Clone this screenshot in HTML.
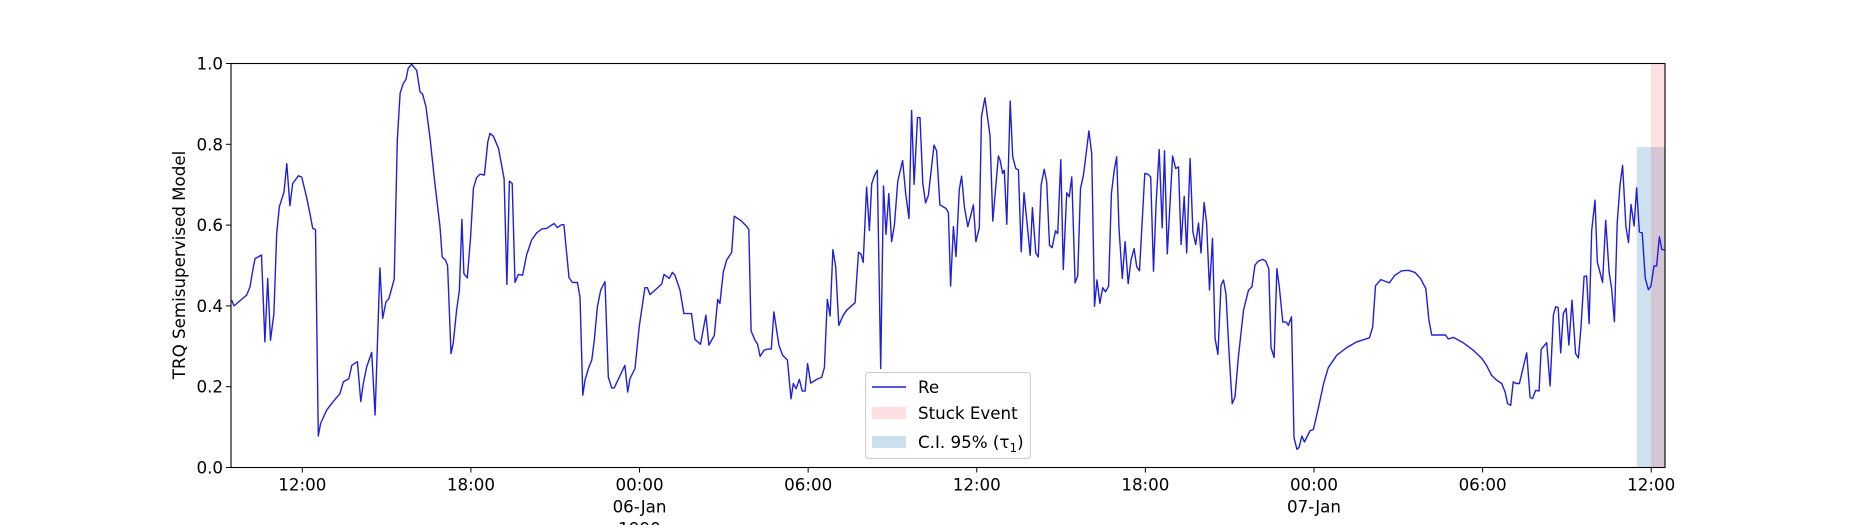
<!DOCTYPE html>
<html><head><meta charset="utf-8"><style>
html,body{margin:0;padding:0;background:#fff;}
svg text{font-family:"DejaVu Sans","Liberation Sans",sans-serif;font-size:16.7px;fill:#000;}
</style></head><body>
<svg id="chart" width="1850" height="525" xmlns="http://www.w3.org/2000/svg">
<rect width="1850" height="525" fill="#fff"/>
<g id="spans"></g>
<g id="plot"></g>
<g id="axes"></g>
<g id="legend">
  <rect x="865.5" y="372.5" width="165" height="86" rx="3" fill="#fff" fill-opacity="0.8" stroke="#cccccc"/>
  <line x1="872" y1="387" x2="906" y2="387" stroke="#1f1fdc" stroke-width="1.5"/>
  <text x="918" y="393">Re</text>
  <rect x="872" y="407" width="34" height="12" fill="#ffdfe2"/>
  <text x="918" y="419">Stuck Event</text>
  <rect x="872" y="436" width="34" height="12" fill="#cbe0ee"/>
  <text x="918" y="448">C.I. 95% (τ<tspan font-size="12" dy="4">1</tspan><tspan dy="-4">)</tspan></text>
</g>
<text transform="translate(185,265) rotate(-90)" text-anchor="middle">TRQ Semisupervised Model</text>
</svg>
<script>
const times=[9.49,9.57,10.02,10.14,10.26,10.32,10.55,10.67,10.77,10.87,10.99,11.09,11.18,11.35,11.45,11.56,11.66,11.86,11.98,12.15,12.27,12.37,12.47,12.57,12.65,12.87,13.10,13.34,13.46,13.66,13.76,13.96,14.08,14.17,14.29,14.47,14.59,14.76,14.86,14.98,15.08,15.27,15.38,15.48,15.59,15.69,15.77,15.89,16.07,16.19,16.28,16.40,16.54,16.72,16.90,16.98,17.10,17.17,17.29,17.37,17.49,17.59,17.68,17.75,17.87,17.99,18.09,18.20,18.32,18.48,18.60,18.68,18.80,18.98,19.18,19.28,19.37,19.47,19.57,19.69,19.84,19.98,20.16,20.34,20.52,20.70,20.96,21.07,21.23,21.31,21.49,21.61,21.79,21.88,21.98,22.06,22.18,22.30,22.39,22.50,22.62,22.77,22.89,23.01,23.10,23.48,23.58,23.66,23.84,23.99,24.19,24.28,24.37,24.55,24.79,24.87,25.06,25.17,25.26,25.44,25.58,25.85,25.97,26.17,26.36,26.47,26.66,26.78,26.86,26.98,27.10,27.28,27.37,27.63,27.81,27.89,27.97,28.11,28.20,28.29,28.43,28.55,28.69,28.78,28.96,29.09,29.26,29.39,29.47,29.57,29.69,29.79,29.89,29.98,30.09,30.30,30.48,30.58,30.68,30.78,30.88,30.98,31.09,31.25,31.37,31.67,31.79,31.88,31.96,32.08,32.18,32.26,32.36,32.46,32.58,32.68,32.77,32.87,32.97,33.07,33.19,33.36,33.47,33.59,33.68,33.77,33.89,33.98,34.08,34.18,34.28,34.48,34.57,34.69,34.91,34.99,35.07,35.17,35.26,35.38,35.46,35.56,35.68,35.88,35.97,36.09,36.17,36.29,36.47,36.57,36.77,36.83,36.92,36.98,37.07,37.19,37.28,37.39,37.48,37.58,37.68,37.78,37.90,37.98,38.10,38.19,38.29,38.40,38.49,38.59,38.68,38.80,38.88,38.99,39.08,39.20,39.29,39.38,39.50,39.59,39.69,39.80,39.99,40.09,40.19,40.28,40.38,40.48,40.58,40.69,40.79,40.89,40.98,41.06,41.18,41.28,41.39,41.49,41.60,41.69,41.79,41.87,41.98,42.09,42.19,42.29,42.38,42.49,42.60,42.68,42.78,42.97,43.08,43.18,43.27,43.38,43.47,43.59,43.69,43.79,43.89,43.98,44.09,44.18,44.28,44.39,44.48,44.58,44.69,44.78,44.87,44.98,45.09,45.19,45.31,45.49,45.67,45.79,45.90,46.02,46.17,46.28,46.39,46.47,46.58,46.68,46.77,46.89,47.01,47.09,47.20,47.29,47.39,47.47,47.57,47.66,47.86,47.98,48.19,48.34,48.51,48.81,49.17,49.52,49.97,50.09,50.19,50.38,50.68,50.88,51.12,51.36,51.59,51.79,51.98,52.09,52.19,52.68,52.78,52.96,53.31,53.67,53.97,54.14,54.32,54.50,54.68,54.80,54.89,55.00,55.09,55.19,55.31,55.57,55.69,55.78,55.89,56.01,56.08,56.28,56.40,56.52,56.60,56.69,56.78,56.87,56.97,57.07,57.18,57.31,57.41,57.50,57.61,57.70,57.79,57.88,58.00,58.08,58.27,58.38,58.50,58.59,58.69,58.79,58.89,58.98,59.10,59.19,59.28,59.39,59.48,59.58,59.68,59.79,59.90,59.99,60.10,60.19,60.29,60.38,60.49];
const values=[.414,.40,.427,.447,.497,.517,.526,.311,.468,.315,.381,.579,.645,.682,.752,.648,.703,.722,.719,.67,.629,.592,.589,.078,.109,.142,.163,.183,.212,.22,.253,.262,.163,.208,.249,.285,.13,.494,.369,.41,.418,.466,.81,.926,.95,.961,.988,.998,.983,.93,.924,.894,.818,.703,.596,.521,.513,.499,.282,.307,.389,.439,.614,.48,.469,.571,.691,.717,.726,.724,.806,.827,.82,.79,.715,.453,.709,.703,.458,.478,.476,.526,.563,.581,.59,.592,.604,.594,.601,.601,.47,.458,.458,.422,.179,.216,.245,.266,.315,.398,.439,.46,.224,.197,.197,.253,.187,.22,.245,.348,.445,.445,.428,.439,.454,.478,.468,.483,.476,.439,.381,.381,.317,.305,.377,.303,.327,.416,.406,.484,.513,.533,.622,.610,.597,.589,.338,.315,.305,.275,.290,.293,.293,.385,.303,.278,.266,.17,.208,.195,.218,.189,.189,.257,.209,.218,.223,.247,.416,.375,.539,.497,.352,.377,.389,.408,.533,.528,.508,.694,.587,.702,.723,.736,.245,.697,.577,.678,.559,.6,.709,.76,.678,.616,.884,.701,.866,.866,.703,.655,.674,.798,.784,.65,.641,.631,.449,.596,.522,.688,.721,.645,.596,.65,.559,.593,.868,.915,.822,.61,.771,.761,.728,.736,.602,.907,.769,.74,.737,.534,.68,.612,.525,.643,.531,.521,.699,.738,.707,.55,.544,.586,.579,.762,.49,.68,.67,.719,.457,.474,.69,.726,.833,.777,.399,.464,.406,.445,.435,.449,.678,.736,.769,.592,.468,.559,.455,.513,.542,.497,.487,.587,.728,.726,.719,.486,.653,.787,.593,.784,.529,.771,.74,.744,.552,.671,.531,.765,.583,.552,.605,.531,.656,.605,.439,.567,.319,.28,.451,.464,.429,.282,.158,.175,.274,.389,.439,.447,.501,.511,.515,.511,.492,.297,.272,.492,.445,.36,.36,.352,.373,.074,.045,.05,.078,.063,.091,.094,.158,.208,.247,.278,.297,.311,.321,.348,.45,.465,.457,.476,.487,.488,.483,.468,.443,.365,.328,.328,.318,.322,.309,.29,.27,.253,.228,.216,.208,.187,.158,.154,.212,.208,.208,.284,.173,.171,.191,.189,.292,.309,.202,.377,.398,.396,.284,.381,.394,.303,.414,.282,.271,.348,.473,.474,.356,.587,.662,.509,.458,.612,.484,.443,.361,.605,.699,.748,.596,.557,.651,.598,.692,.583,.581,.468,.44,.449,.499,.499,.571,.539,.539];
const xTicks=[12,18,24,30,36,42,48,54,60];
const xTickLabels=[["12:00"],["18:00"],["00:00","06-Jan","1990"],["06:00"],["12:00"],["18:00"],["00:00","07-Jan"],["06:00"],["12:00"]];
const yTicks=[0,0.2,0.4,0.6,0.8,1.0];
const yTickLabels=["0.0","0.2","0.4","0.6","0.8","1.0"];
const stuckSpan=[59.99,60.49];
const ciSpan=[59.48,60.49];
const ciUpper=[0.793];

const L=231,R=1665,T=63.5,B=467.5;
const X0=9.463,X1=60.49;
const xs=t=>L+(t-X0)/(X1-X0)*(R-L);
const ys=v=>B-v*(B-T);
const NS="http://www.w3.org/2000/svg";
function mk(tag,attrs,parent){const e=document.createElementNS(NS,tag);for(const k in attrs)e.setAttribute(k,attrs[k]);parent.appendChild(e);return e;}

const spans=document.getElementById('spans');
const ci=mk('rect',{x:xs(ciSpan[0]),y:ys(ciUpper[0]),width:xs(ciSpan[1])-xs(ciSpan[0]),height:B-ys(ciUpper[0]),fill:'#1f77b4','fill-opacity':0.22},spans);


const st=mk('rect',{x:xs(stuckSpan[0]),y:T,width:xs(stuckSpan[1])-xs(stuckSpan[0]),height:B-T,fill:'#ff0000','fill-opacity':0.12},spans);



const plot=document.getElementById('plot');
let d='';
for(let i=0;i<times.length;i++){d+=(i?'L':'M')+xs(times[i]).toFixed(1)+','+ys(values[i]).toFixed(1);}
const line=mk('path',{d:d,fill:'none',stroke:'#1f1fdc','stroke-width':1.4,'stroke-linejoin':'round'},plot);



const axes=document.getElementById('axes');
const frame=mk('rect',{x:L,y:T,width:R-L,height:B-T,fill:'none',stroke:'#000','stroke-width':1.1},axes);


xTicks.forEach((t,i)=>{
  const x=xs(t);
  const tk=mk('line',{x1:x,y1:B,x2:x,y2:B+5,stroke:'#000'},axes);
  
  
  xTickLabels[i].forEach((s,j)=>{
    const tx=mk('text',{x:x,y:B+23+j*22,'text-anchor':'middle'},axes);
    tx.textContent=s;
    
    
  });
});
yTicks.forEach((v,i)=>{
  const y=ys(v);
  const tk=mk('line',{x1:L-5,y1:y,x2:L,y2:y,stroke:'#000'},axes);
  
  
  const tx=mk('text',{x:L-8,y:y+6,'text-anchor':'end'},axes);
  tx.textContent=yTickLabels[i];
  
  
});
</script>
</body></html>
